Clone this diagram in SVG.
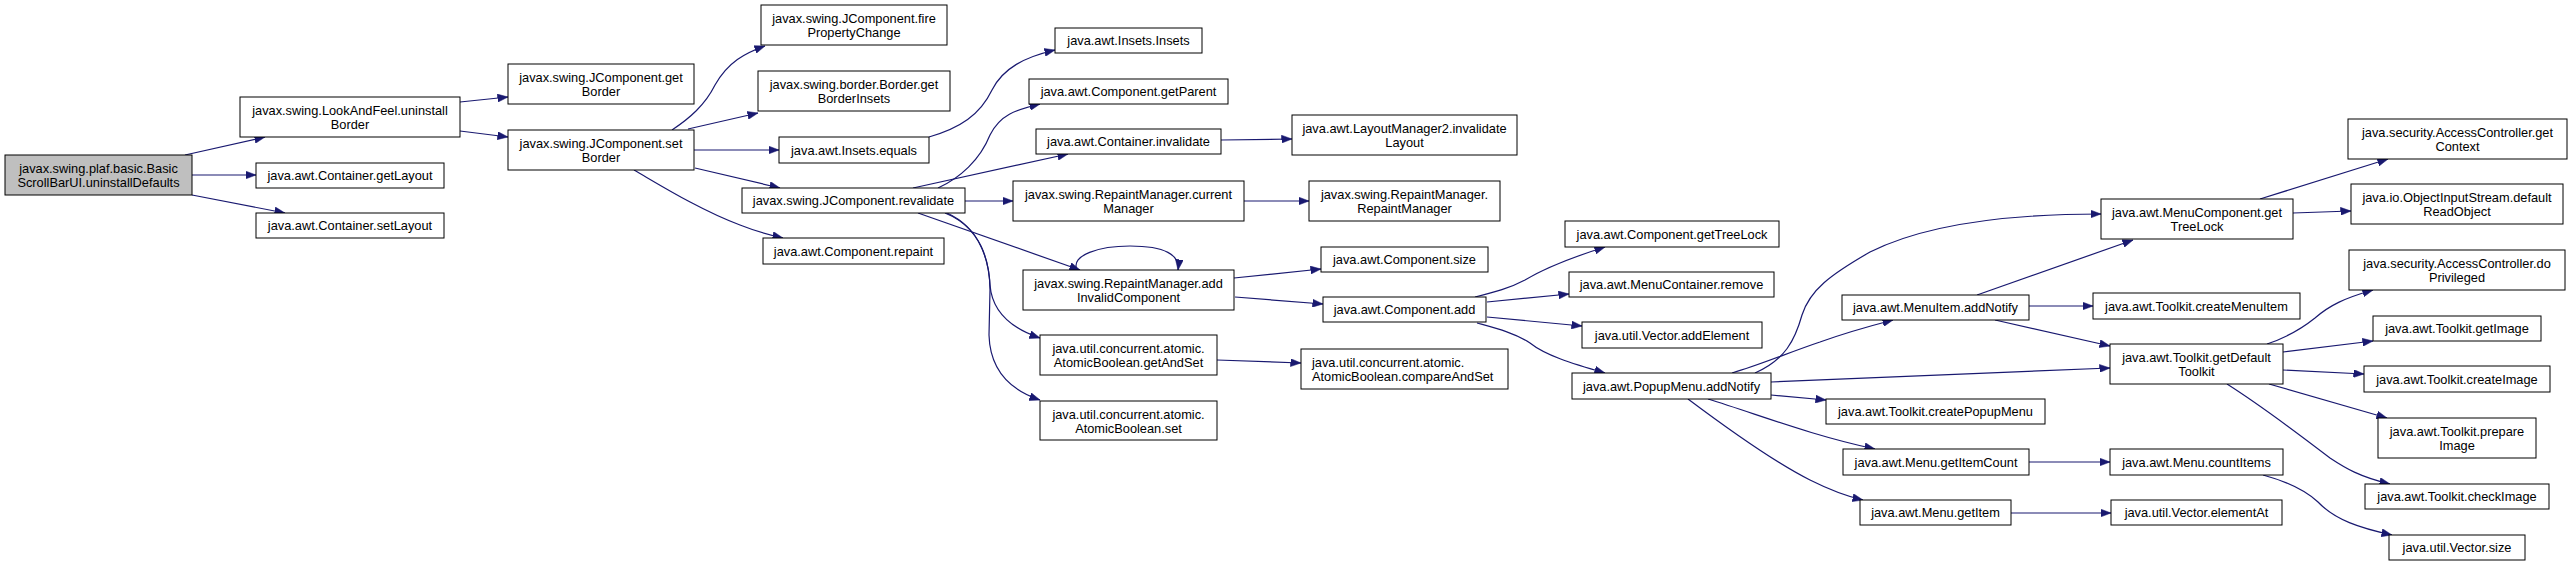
<svg xmlns="http://www.w3.org/2000/svg" width="2572" height="566" viewBox="0 0 2572 566">
<style>
.n rect{fill:#ffffff;stroke:#000000;stroke-width:1}
.n.root rect{fill:#bfbfbf}
.n text{font-family:"Liberation Sans",Arial,sans-serif;font-size:12.8px;fill:#000000;text-anchor:middle}
.n text.l{text-anchor:start}
.e path{fill:none;stroke:#191970;stroke-width:1.2;marker-end:url(#arr)}
</style>
<defs>
<marker id="arr" markerUnits="userSpaceOnUse" markerWidth="11" markerHeight="8" refX="10.5" refY="4" orient="auto">
<path d="M0,0 L10.5,4 L0,8 z" fill="#191970" stroke="#191970" stroke-width="0.5"/>
</marker>
</defs>
<rect width="2572" height="566" fill="#ffffff"/>
<g id="edges" class="e">
<path d="M185,155 L265,137"/>
<path d="M192,175 L256,175"/>
<path d="M192,195 L285,213"/>
<path d="M460,102 L508,97"/>
<path d="M460,131 L508,137"/>
<path d="M672,130 C690,118 705,105 715,85 C728,62 745,53 765,46"/>
<path d="M688,129 L758,113"/>
<path d="M694,150 L779,150"/>
<path d="M695,168 L780,188"/>
<path d="M634,170 C660,185 700,210 740,225 C755,231 770,235 783,238"/>
<path d="M929,137 C960,128 980,115 992,90 C1003,68 1025,57 1055,50"/>
<path d="M938,188 C960,178 980,160 990,135 C1000,115 1015,110 1040,104"/>
<path d="M913,188 L1068,154"/>
<path d="M965,201 L1013,201"/>
<path d="M918,213 L1080,270"/>
<path d="M945,213 C975,225 988,250 990,285 C992,310 1010,328 1040,338"/>
<path d="M947,213 C980,228 990,260 990,290 L989,335 C990,370 1010,390 1040,400"/>
<path d="M1221,140 L1292,139"/>
<path d="M1244,201 L1309,201"/>
<path d="M1077,270 C1070,255 1100,246 1130,246 C1165,246 1180,255 1178,270"/>
<path d="M1234,278 L1321,269"/>
<path d="M1235,297 L1323,304"/>
<path d="M1217,360 L1301,363"/>
<path d="M1475,297 C1495,292 1510,288 1525,280 C1545,268 1570,258 1605,247"/>
<path d="M1487,302 L1569,294"/>
<path d="M1487,317 L1582,326"/>
<path d="M1477,323 C1495,328 1515,333 1530,343 C1545,355 1570,363 1605,373"/>
<path d="M1755,373 C1785,360 1795,340 1802,315 C1810,290 1830,275 1870,252 C1930,222 2020,214 2101,214"/>
<path d="M1732,373 C1760,365 1790,352 1820,342 C1845,333 1870,326 1893,320"/>
<path d="M1771,382 L2110,368"/>
<path d="M1771,395 L1826,400"/>
<path d="M1708,399 C1760,415 1810,435 1875,449"/>
<path d="M1688,399 C1720,423 1770,460 1810,480 C1830,490 1845,496 1863,500"/>
<path d="M1977,295 L2133,240"/>
<path d="M2029,306 L2093,306"/>
<path d="M1995,320 L2110,346"/>
<path d="M2029,462 L2110,462"/>
<path d="M2011,513 L2111,513"/>
<path d="M2260,199 L2388,159"/>
<path d="M2293,213 L2351,211"/>
<path d="M2267,344 C2285,338 2300,330 2315,318 C2330,305 2345,298 2373,290"/>
<path d="M2283,352 L2373,341"/>
<path d="M2283,370 L2364,374"/>
<path d="M2269,384 L2387,418"/>
<path d="M2227,384 C2260,405 2300,435 2330,458 C2345,468 2360,477 2390,484"/>
<path d="M2263,475 C2285,481 2305,490 2318,502 C2335,520 2360,528 2392,535"/>
</g>
<g id="n0" class="n root"><rect x="5" y="155" width="187" height="40"/><text x="98.5" y="172.5">javax.swing.plaf.basic.Basic</text><text x="98.5" y="186.5">ScrollBarUI.uninstallDefaults</text></g>
<g id="n1" class="n"><rect x="240" y="97" width="220" height="40"/><text x="350" y="114.5">javax.swing.LookAndFeel.uninstall</text><text x="350" y="128.5">Border</text></g>
<g id="n2" class="n"><rect x="256" y="163" width="188" height="25"/><text x="350" y="180">java.awt.Container.getLayout</text></g>
<g id="n3" class="n"><rect x="256" y="213" width="188" height="25"/><text x="350" y="230">java.awt.Container.setLayout</text></g>
<g id="n4" class="n"><rect x="508" y="64" width="186" height="40"/><text x="601" y="81.5">javax.swing.JComponent.get</text><text x="601" y="95.5">Border</text></g>
<g id="n5" class="n"><rect x="508" y="130" width="186" height="40"/><text x="601" y="147.5">javax.swing.JComponent.set</text><text x="601" y="161.5">Border</text></g>
<g id="n6" class="n"><rect x="761" y="5" width="186" height="40"/><text x="854" y="22.5">javax.swing.JComponent.fire</text><text x="854" y="36.5">PropertyChange</text></g>
<g id="n7" class="n"><rect x="758" y="71" width="192" height="40"/><text x="854" y="88.5">javax.swing.border.Border.get</text><text x="854" y="102.5">BorderInsets</text></g>
<g id="n8" class="n"><rect x="779" y="137" width="150" height="26"/><text x="854" y="154.5">java.awt.Insets.equals</text></g>
<g id="n9" class="n"><rect x="742" y="188" width="223" height="25"/><text x="853.5" y="205">javax.swing.JComponent.revalidate</text></g>
<g id="n10" class="n"><rect x="763" y="238" width="181" height="26"/><text x="853.5" y="255.5">java.awt.Component.repaint</text></g>
<g id="n11" class="n"><rect x="1055" y="28" width="147" height="25"/><text x="1128.5" y="45">java.awt.Insets.Insets</text></g>
<g id="n12" class="n"><rect x="1029" y="79" width="199" height="25"/><text x="1128.5" y="96">java.awt.Component.getParent</text></g>
<g id="n13" class="n"><rect x="1036" y="129" width="185" height="25"/><text x="1128.5" y="146">java.awt.Container.invalidate</text></g>
<g id="n14" class="n"><rect x="1013" y="181" width="231" height="40"/><text x="1128.5" y="198.5">javax.swing.RepaintManager.current</text><text x="1128.5" y="212.5">Manager</text></g>
<g id="n15" class="n"><rect x="1023" y="270" width="211" height="40"/><text x="1128.5" y="287.5">javax.swing.RepaintManager.add</text><text x="1128.5" y="301.5">InvalidComponent</text></g>
<g id="n16" class="n"><rect x="1040" y="335" width="177" height="40"/><text x="1128.5" y="352.5">java.util.concurrent.atomic.</text><text x="1128.5" y="366.5">AtomicBoolean.getAndSet</text></g>
<g id="n17" class="n"><rect x="1040" y="401" width="177" height="39"/><text x="1128.5" y="418.5">java.util.concurrent.atomic.</text><text x="1128.5" y="432.5">AtomicBoolean.set</text></g>
<g id="n18" class="n"><rect x="1292" y="115" width="225" height="40"/><text x="1404.5" y="132.5">java.awt.LayoutManager2.invalidate</text><text x="1404.5" y="146.5">Layout</text></g>
<g id="n19" class="n"><rect x="1309" y="181" width="191" height="40"/><text x="1404.5" y="198.5">javax.swing.RepaintManager.</text><text x="1404.5" y="212.5">RepaintManager</text></g>
<g id="n20" class="n"><rect x="1321" y="247" width="167" height="25"/><text x="1404.5" y="264">java.awt.Component.size</text></g>
<g id="n21" class="n"><rect x="1323" y="297" width="163" height="25"/><text x="1404.5" y="314">java.awt.Component.add</text></g>
<g id="n22" class="n"><rect x="1301" y="349" width="207" height="40"/><text class="l" x="1312" y="366.5">java.util.concurrent.atomic.</text><text class="l" x="1312" y="380.5">AtomicBoolean.compareAndSet</text></g>
<g id="n23" class="n"><rect x="1565" y="221" width="214" height="26"/><text x="1672" y="238.5">java.awt.Component.getTreeLock</text></g>
<g id="n24" class="n"><rect x="1569" y="272" width="205" height="25"/><text x="1671.5" y="289">java.awt.MenuContainer.remove</text></g>
<g id="n25" class="n"><rect x="1582" y="322" width="180" height="26"/><text x="1672" y="339.5">java.util.Vector.addElement</text></g>
<g id="n26" class="n"><rect x="1572" y="373" width="199" height="26"/><text x="1671.5" y="390.5">java.awt.PopupMenu.addNotify</text></g>
<g id="n27" class="n"><rect x="1842" y="295" width="187" height="25"/><text x="1935.5" y="312">java.awt.MenuItem.addNotify</text></g>
<g id="n28" class="n"><rect x="1826" y="399" width="219" height="25"/><text x="1935.5" y="416">java.awt.Toolkit.createPopupMenu</text></g>
<g id="n29" class="n"><rect x="1843" y="449" width="186" height="26"/><text x="1936" y="466.5">java.awt.Menu.getItemCount</text></g>
<g id="n30" class="n"><rect x="1860" y="500" width="151" height="25"/><text x="1935.5" y="517">java.awt.Menu.getItem</text></g>
<g id="n31" class="n"><rect x="2101" y="199" width="192" height="40"/><text x="2197" y="216.5">java.awt.MenuComponent.get</text><text x="2197" y="230.5">TreeLock</text></g>
<g id="n32" class="n"><rect x="2093" y="293" width="207" height="26"/><text x="2196.5" y="310.5">java.awt.Toolkit.createMenuItem</text></g>
<g id="n33" class="n"><rect x="2110" y="344" width="173" height="40"/><text x="2196.5" y="361.5">java.awt.Toolkit.getDefault</text><text x="2196.5" y="375.5">Toolkit</text></g>
<g id="n34" class="n"><rect x="2110" y="449" width="173" height="26"/><text x="2196.5" y="466.5">java.awt.Menu.countItems</text></g>
<g id="n35" class="n"><rect x="2111" y="500" width="171" height="25"/><text x="2196.5" y="517">java.util.Vector.elementAt</text></g>
<g id="n36" class="n"><rect x="2348" y="119" width="219" height="40"/><text x="2457.5" y="136.5">java.security.AccessController.get</text><text x="2457.5" y="150.5">Context</text></g>
<g id="n37" class="n"><rect x="2351" y="184" width="212" height="40"/><text x="2457" y="201.5">java.io.ObjectInputStream.default</text><text x="2457" y="215.5">ReadObject</text></g>
<g id="n38" class="n"><rect x="2349" y="250" width="216" height="40"/><text x="2457" y="267.5">java.security.AccessController.do</text><text x="2457" y="281.5">Privileged</text></g>
<g id="n39" class="n"><rect x="2373" y="316" width="168" height="25"/><text x="2457" y="333">java.awt.Toolkit.getImage</text></g>
<g id="n40" class="n"><rect x="2364" y="366" width="186" height="26"/><text x="2457" y="383.5">java.awt.Toolkit.createImage</text></g>
<g id="n41" class="n"><rect x="2378" y="418" width="158" height="40"/><text x="2457" y="435.5">java.awt.Toolkit.prepare</text><text x="2457" y="449.5">Image</text></g>
<g id="n42" class="n"><rect x="2365" y="484" width="184" height="25"/><text x="2457" y="501">java.awt.Toolkit.checkImage</text></g>
<g id="n43" class="n"><rect x="2389" y="535" width="136" height="25"/><text x="2457" y="552">java.util.Vector.size</text></g>
</svg>
